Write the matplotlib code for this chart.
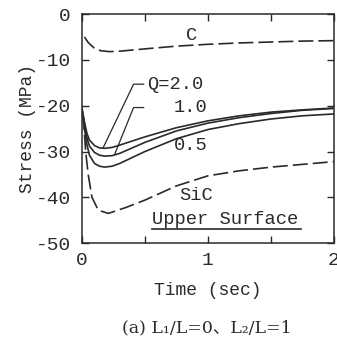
import matplotlib
matplotlib.use("Agg")
import matplotlib.pyplot as plt

plt.rcParams['axes.unicode_minus'] = False

# curves: time (sec), stress (MPa)
t_c = [0.02, 0.05, 0.1, 0.15, 0.22, 0.3, 0.5, 0.75, 1.0, 1.25, 1.5, 1.75, 2.0]
s_c = [-5.0, -6.2, -7.5, -8.0, -8.2, -8.1, -7.6, -7.0, -6.6, -6.3, -6.1, -5.9, -5.8]

t_q = [0.0, 0.02, 0.04, 0.06, 0.1, 0.14, 0.18, 0.24, 0.3, 0.4, 0.5, 0.75, 1.0, 1.25, 1.5, 1.75, 2.0]
s_q20 = [-20.5, -23.5, -26.0, -27.5, -28.7, -29.2, -29.3, -29.1, -28.6, -27.7, -26.8, -24.8, -23.3, -22.2, -21.4, -20.9, -20.5]
s_q10 = [-20.5, -24.0, -27.0, -28.8, -30.2, -30.8, -31.0, -30.9, -30.4, -29.2, -28.0, -25.5, -23.8, -22.6, -21.7, -21.0, -20.6]
s_q05 = [-20.5, -25.0, -28.5, -30.8, -32.6, -33.2, -33.4, -33.2, -32.6, -31.3, -30.0, -27.2, -25.2, -23.9, -22.9, -22.2, -21.8]

t_sic = [0.01, 0.03, 0.05, 0.08, 0.13, 0.21, 0.35, 0.5, 0.75, 1.0, 1.25, 1.5, 1.75, 2.0]
s_sic = [-22.0, -30.0, -35.0, -40.0, -42.8, -43.5, -42.2, -40.6, -37.5, -35.3, -34.2, -33.4, -32.8, -32.2]

mono = 'Liberation Mono'
ink = '#2a2a2a'

fig = plt.figure(figsize=(3.37, 3.43), dpi=100)
ax = fig.add_axes([0.243, 0.291, 0.748, 0.668])

ax.plot(t_c, s_c, color=ink, lw=1.2, dashes=(9, 3))
ax.plot(t_q, s_q20, color=ink, lw=1.2)
ax.plot(t_q, s_q10, color=ink, lw=1.2)
ax.plot(t_q, s_q05, color=ink, lw=1.2)
ax.plot(t_sic, s_sic, color=ink, lw=1.2, dashes=(9, 3))

# leader lines for the Q labels
ax.plot([0.49, 0.41, 0.17], [-15.3, -15.3, -29.1], color=ink, lw=0.9)
ax.plot([0.49, 0.41, 0.26], [-20.4, -20.4, -30.6], color=ink, lw=0.9)

fs = 13.5
ax.text(0.87, -4.6, 'C', family=mono, fontsize=fs, ha='center', va='center', color=ink)
ax.text(0.52, -15.3, 'Q=2.0', family=mono, fontsize=fs, ha='left', va='center', color=ink)
ax.text(0.73, -20.3, '1.0', family=mono, fontsize=fs, ha='left', va='center', color=ink)
ax.text(0.73, -28.6, '0.5', family=mono, fontsize=fs, ha='left', va='center', color=ink)
ax.text(0.77, -39.5, 'SiC', family=mono, fontsize=fs, ha='left', va='center', color=ink)
ax.text(0.56, -44.8, 'Upper Surface', family=mono, fontsize=fs, ha='left', va='center', color=ink)
ax.plot([0.56, 1.74], [-46.8, -46.8], color=ink, lw=1.2)

ax.set_xlim(0, 2)
ax.set_ylim(-50, 0)
ax.set_xticks([0, 0.5, 1, 1.5, 2])
ax.set_xticklabels(['0', '', '1', '', '2'])
ax.set_yticks([-50, -40, -30, -20, -10, 0])
ax.tick_params(direction='in', length=5, width=1, top=True, right=True,
               labelsize=14, colors=ink)
ax.tick_params(axis='x', pad=6)
ax.tick_params(axis='y', pad=8)
for lab in ax.get_xticklabels() + ax.get_yticklabels():
    lab.set_family(mono)
for sp in ax.spines.values():
    sp.set_color(ink)
    sp.set_linewidth(1.1)

ax.set_xlabel('Time (sec)', family=mono, fontsize=13, color=ink, labelpad=10)
ax.set_ylabel('Stress (MPa)', family=mono, fontsize=13, color=ink, labelpad=0)

fig.text(0.614, 0.044, '(a) L\u2081/L=0\u3001L\u2082/L=1',
         family=['DejaVu Serif', 'Noto Sans CJK JP'],
         fontsize=12.5, ha='center', va='center', color=ink)

fig.savefig('out.png', dpi=100)
